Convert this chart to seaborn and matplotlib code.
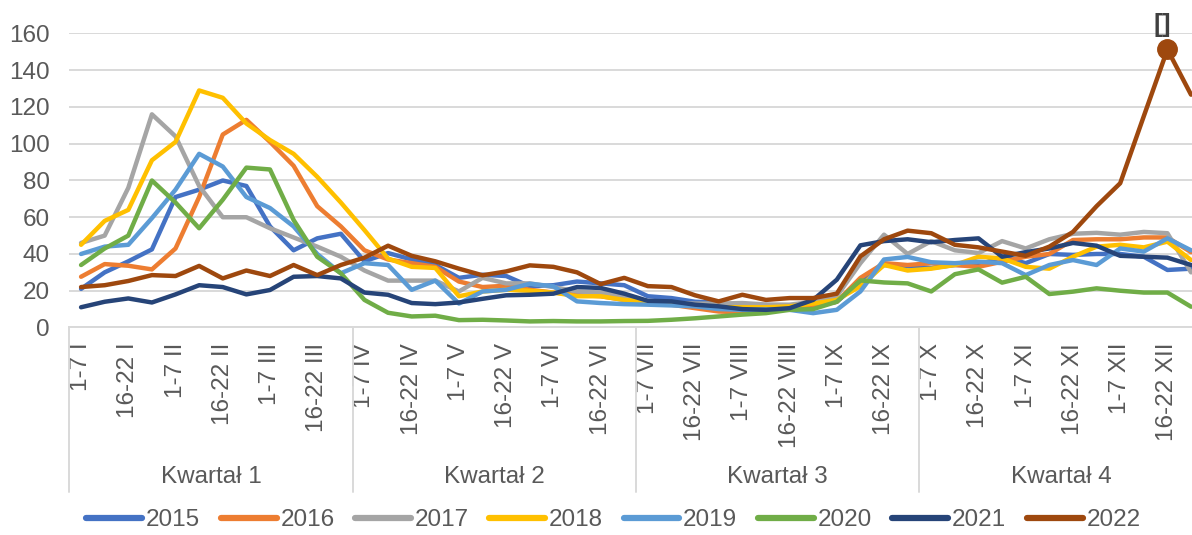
import numpy as np
import pandas as pd
import matplotlib
matplotlib.use("Agg")
import matplotlib.pyplot as plt
import matplotlib.transforms as mtransforms
import seaborn as sns

# Dane tygodniowe (4 okresy w miesiącu)
months = ["I", "II", "III", "IV", "V", "VI", "VII", "VIII", "IX", "X", "XI", "XII"]
month_end = [31, 28, 31, 30, 31, 30, 31, 31, 30, 31, 30, 31]
quarters = ["Kwartał 1", "Kwartał 2", "Kwartał 3", "Kwartał 4"]
years = ["2015", "2016", "2017", "2018", "2019", "2020", "2021", "2022"]

v2015 = [21, 30, 36, 42.5, 71, 75, 80, 77, 55, 42, 48.5, 51,
         36, 40.5, 37, 34, 27, 28.7, 28, 22.4, 23, 25, 24, 23,
         17, 16, 14, 13.5, 11.5, 10, 10.5, 11.5, 14, 25, 34, 33.3,
         32.4, 34, 34, 38.5, 35, 40, 39.5, 40, 40, 38.5, 31.3, 32]
v2016 = [27.6, 34.5, 33.6, 31.6, 43, 71, 105, 113, 101, 88, 66, 55,
         42, 37, 35, 33, 25, 22, 22.7, 20.5, 19, 17.8, 17, 15,
         14, 12.4, 10.5, 8.7, 8.2, 8.7, 10, 11.5, 14, 27, 35, 34,
         35, 34, 33, 35.8, 38.5, 40, 47.6, 48, 48, 49, 49, 41]
v2017 = [46, 50, 76, 116, 104, 77, 60, 60, 54, 49, 44, 38.5,
         31, 25.5, 25.5, 25.5, 19.6, 27, 24, 24, 22, 19.6, 19, 17,
         14, 13.3, 13, 13, 13.3, 12.5, 12.4, 14, 17, 35, 50.5, 40,
         47, 42, 40.5, 47, 43, 48, 51, 51.5, 50.5, 52, 51.3, 30]
v2018 = [45, 58, 64, 91, 101, 129, 125, 111, 102, 94.5, 82, 68,
         53, 37.5, 33, 32.4, 17, 19.6, 20.5, 20, 19, 17, 17, 15,
         14, 13, 12, 11, 11, 11, 11.5, 13, 15, 22.4, 34, 31,
         32, 34, 38.5, 37.6, 33, 32, 38.5, 44, 45, 43.6, 46.7, 36.7]
v2019 = [40, 44, 45, 59.5, 75, 94.5, 87.6, 71, 65, 55, 40, 29.5,
         35, 34, 20.5, 25.5, 13, 19.6, 20.5, 23.8, 22.4, 14.2, 13.3, 12.7,
         12.4, 12, 11.5, 10, 9.6, 9.8, 9.6, 7.8, 9.6, 19.6, 37, 38.4,
         35.5, 35, 35.8, 35, 28.5, 34, 36.7, 34, 43, 41.3, 48.5, 42]
v2020 = [34, 43, 50, 80, 68, 54, 69.5, 87, 86, 58.5, 38.5, 29.5,
         15, 8, 6, 6.4, 4, 4.2, 3.8, 3.3, 3.5, 3.3, 3.3, 3.5,
         3.6, 4.2, 5, 6, 7, 7.8, 9.6, 10, 14, 25.6, 24.5, 24,
         19.6, 29, 31.6, 24.4, 27.6, 18.2, 19.5, 21.3, 20, 19, 19, 11.3]
v2021 = [11, 14, 15.8, 13.6, 18, 23, 22, 18, 20.4, 27.6, 28, 26.7,
         19, 17.8, 13.3, 12.7, 13.6, 15.6, 17.5, 17.8, 18.4, 22, 21.5, 18.4,
         14.5, 14.2, 12.4, 11.5, 10, 9.6, 10.5, 15, 26, 44.7, 47, 48,
         46.4, 47.6, 48.5, 38.5, 41, 43, 46, 44.5, 39, 38.5, 38, 34]
v2022 = [22, 23, 25.3, 28.5, 28, 33.5, 26.7, 31, 28, 34, 28.5, 34,
         38, 44.5, 39, 36, 32, 28.4, 30.5, 33.8, 33, 30, 23.6, 27,
         22.5, 22, 17.5, 14.2, 17.8, 15, 16, 16, 18.4, 38.7, 48, 52.7,
         51.3, 45, 43.6, 41.3, 39, 44, 52, 66, 78.5, 115, 151.3, 126.7]

colors = ["#4472C4", "#ED7D31", "#A5A5A5", "#FFC000",
          "#5B9BD5", "#70AD47", "#264478", "#9E480E"]

categories = []
for m, d in zip(months, month_end):
    categories += [f"1-7 {m}", f"8-15 {m}", f"16-22 {m}", f"23-{d} {m}"]

series = [v2015, v2016, v2017, v2018, v2019, v2020, v2021, v2022]
rows = []
for yr, vals in zip(years, series):
    for i, v in enumerate(vals):
        rows.append({"tydzien": i, "wartosc": v, "rok": yr})
df = pd.DataFrame(rows)

sns.set_style("white")
plt.rcParams['font.family'] = ['Liberation Sans', 'DejaVu Sans']
txt = "#595959"
grid = "#D9D9D9"
fs = 17.5

fig = plt.figure(figsize=(11.92, 5.35), dpi=100)
ax = fig.add_axes([0.0581, 0.3879, 0.951, 0.5495])

sns.lineplot(data=df, x="tydzien", y="wartosc", hue="rok", hue_order=years,
             palette=dict(zip(years, colors)), linewidth=3.2, ax=ax, sort=False)
for ln in ax.get_lines():
    ln.set_solid_joinstyle("round")

# punkt maksimum 2022
pk = int(np.argmax(v2022))
ax.plot(pk, v2022[pk], "o", color=colors[-1], ms=14, zorder=10)
ax.annotate("[]", (pk, v2022[pk]), xytext=(-4, 9), textcoords="offset points",
            ha="center", va="bottom", fontsize=19, fontweight="bold",
            color="#404040", annotation_clip=False)

ax.set_xlim(-0.5, len(categories) - 0.5)
ax.set_ylim(0, 160)
ax.set_yticks(range(0, 161, 20))
ax.yaxis.grid(True, color=grid, lw=1.4)
ax.set_axisbelow(True)
ax.set_xticks(range(0, len(categories), 2))
ax.set_xticklabels(categories[::2], rotation=90, va="top", ha="center")
ax.tick_params(axis="x", length=0, pad=11, labelsize=fs, labelcolor=txt)
ax.tick_params(axis="y", length=0, pad=14, labelsize=fs, labelcolor=txt)
ax.set_xlabel("")
ax.set_ylabel("")
for s in ["left", "right", "top"]:
    ax.spines[s].set_visible(False)
ax.spines["bottom"].set_color(grid)
ax.spines["bottom"].set_linewidth(1.4)

# podział na kwartały
trans = mtransforms.blended_transform_factory(ax.transData, ax.transAxes)
for q in range(5):
    xb = q * 12 - 0.5
    ax.plot([xb, xb], [0, -0.56], color=grid, lw=1.4, transform=trans, clip_on=False)
for q, name in enumerate(quarters):
    ax.text(q * 12 + 5.5, -0.508, name, transform=trans, ha="center", va="center",
            fontsize=fs, color=txt)

sns.move_legend(ax, "center", bbox_to_anchor=(0.48, -0.655), ncol=8, frameon=False,
                title=None, fontsize=fs, handlelength=2.3, handletextpad=0.15,
                columnspacing=0.85, borderpad=0.2)
leg = ax.get_legend()
for t in leg.get_texts():
    t.set_color(txt)
for ln in leg.get_lines():
    ln.set_linewidth(4.5)
    ln.set_solid_capstyle("round")

fig.savefig("out.png", dpi=100)
